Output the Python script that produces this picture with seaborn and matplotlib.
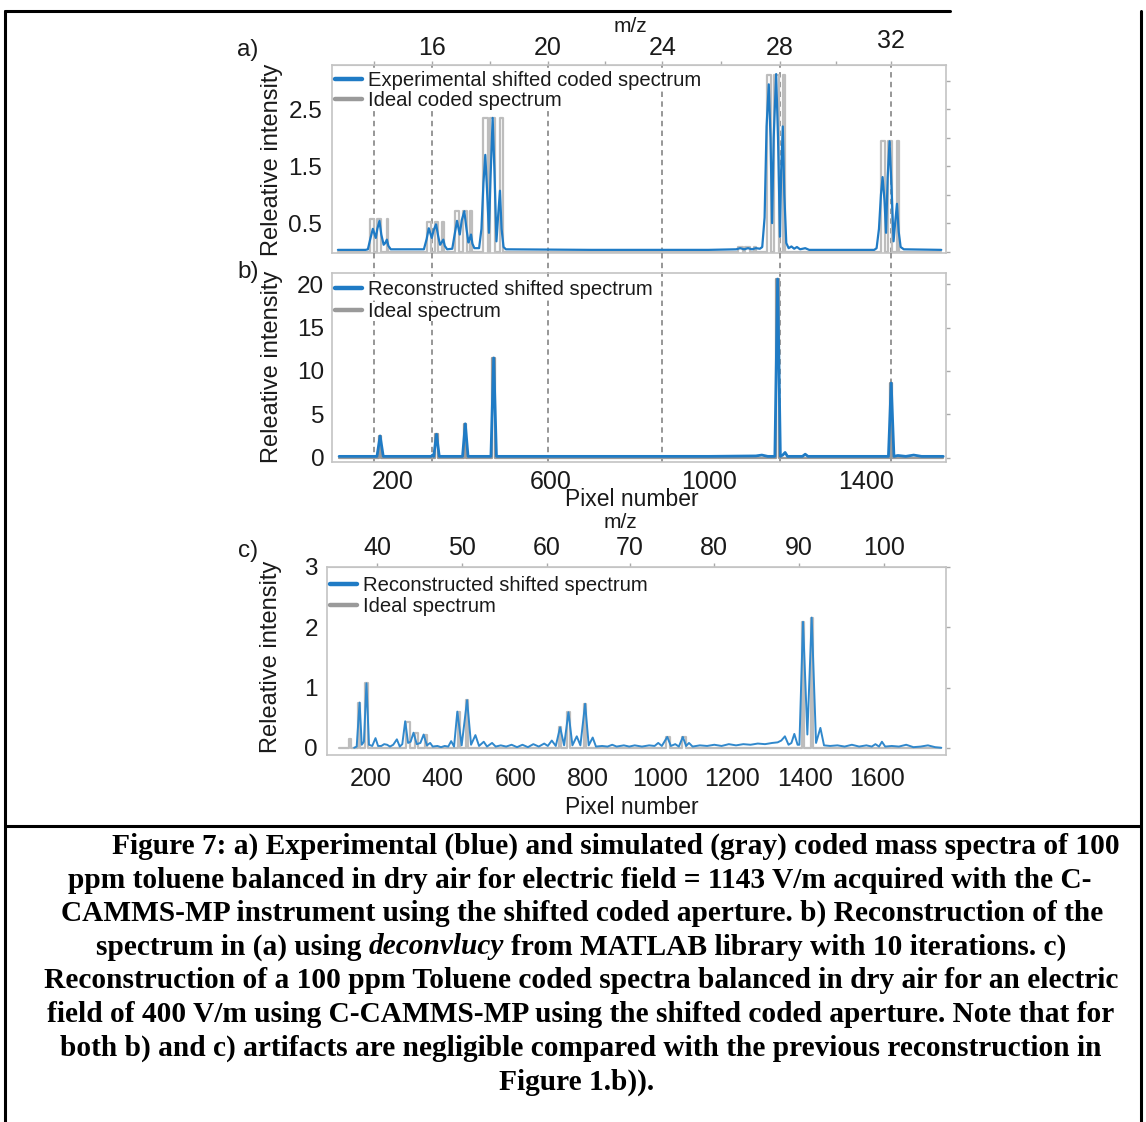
import numpy as np
import pandas as pd
import matplotlib
matplotlib.use("Agg")
import matplotlib.pyplot as plt
import seaborn as sns
from matplotlib.lines import Line2D
from matplotlib.transforms import blended_transform_factory

# ------------------------------------------------------------------ data
# a) experimental shifted coded spectrum: pixel number / relative intensity
a_exp_px = [60, 130, 136, 142, 148.6, 156, 160, 165.3, 170, 176, 180, 184.1, 188, 194,
            278, 285, 290.4, 298, 303, 308.9, 314, 319, 323, 327.3, 331, 337,
            350, 356, 362, 369, 374, 380.5, 386, 391, 394, 397.5, 401, 406,
            418, 424, 429, 433.7, 438, 443, 447, 452.4, 457, 462, 466, 470.9, 475, 480, 486,
            700, 1000, 1070, 1080, 1090, 1100, 1110, 1120, 1130,
            1136, 1142, 1147, 1152.6, 1157, 1161, 1165, 1171.3, 1176, 1181, 1184, 1188.1,
            1192, 1197, 1203, 1210, 1217, 1224, 1232, 1245, 1255,
            1420, 1426, 1432, 1437, 1441.2, 1446, 1450, 1454, 1458.9, 1464, 1469, 1473,
            1477.7, 1482, 1487, 1495, 1590]
a_exp_int = [0.03, 0.03, 0.04, 0.22, 0.40, 0.24, 0.40, 0.54, 0.30, 0.12, 0.15, 0.21, 0.10, 0.04,
             0.04, 0.22, 0.41, 0.24, 0.38, 0.48, 0.28, 0.12, 0.16, 0.21, 0.10, 0.04,
             0.05, 0.30, 0.54, 0.30, 0.55, 0.71, 0.40, 0.16, 0.22, 0.30, 0.14, 0.06,
             0.06, 0.40, 1.20, 1.70, 1.10, 0.33, 1.30, 2.35, 1.40, 0.18, 0.60, 1.07, 0.40, 0.08, 0.04,
             0.03, 0.03, 0.04, 0.06, 0.04, 0.06, 0.04, 0.06, 0.05,
             0.08, 0.60, 2.20, 2.94, 2.00, 0.50, 2.00, 3.12, 2.00, 0.26, 1.40, 2.20,
             1.00, 0.15, 0.06, 0.09, 0.05, 0.08, 0.04, 0.06, 0.03,
             0.03, 0.06, 0.40, 1.00, 1.31, 0.90, 0.33, 1.30, 1.94, 1.10, 0.18, 0.50,
             0.84, 0.35, 0.08, 0.04, 0.03]
# a) ideal coded spectrum: slit openings
a_slit_start = [142.5, 159.5, 184.8, 286.1, 306.3, 324.8, 357.7, 376.5, 394.9,
                428.6, 446.3, 471.6, 1075, 1092, 1116, 1148.6, 1165.3, 1188.1,
                1437.9, 1454.9, 1477.7]
a_slit_end = [152.7, 169.6, 188.1, 296.2, 314.7, 328.4, 367.8, 386.6, 399.2,
              439.7, 458.2, 477.7, 1087, 1104, 1121, 1158.7, 1178.9, 1193.2,
              1446.3, 1465.1, 1481.8]
a_slit_height = [0.57, 0.57, 0.57, 0.52, 0.52, 0.52, 0.71, 0.71, 0.71,
                 2.35, 2.35, 2.35, 0.08, 0.08, 0.08, 3.10, 3.10, 3.10,
                 1.95, 1.95, 1.95]
# m/z markers (dashed lines) for panels a and b, in pixel number
mz_marks = [14, 16, 20, 24, 28, 32]
mz_marks_px = [152, 299, 592, 883, 1181, 1463]
a_top_labels = [16, 20, 24, 28, 32]
a_top_minor = [14, 18, 22, 26, 30]

# b) reconstructed shifted spectrum
b_rec_px = [63, 159, 167, 175, 296, 300, 303, 310, 317, 376, 383, 390, 448, 455, 462,
            1000, 1120, 1135, 1150, 1168, 1175, 1182, 1188, 1194, 1200,
            1238, 1245, 1252, 1456, 1463, 1470, 1480, 1500, 1520, 1540, 1595]
b_rec_int = [0.15, 0.15, 2.5, 0.15, 0.15, 0.3, 0.15, 2.7, 0.15, 0.15, 3.9, 0.15, 0.15, 11.5, 0.15,
             0.15, 0.2, 0.3, 0.15, 0.15, 20.6, 0.15, 0.3, 0.6, 0.15,
             0.15, 0.4, 0.15, 0.15, 8.6, 0.15, 0.25, 0.15, 0.3, 0.15, 0.15]
# b) ideal spectrum sticks
b_ideal_pos = [167, 310, 383, 455, 1175, 1463]
b_ideal_int = [2.5, 2.7, 3.9, 11.5, 20.6, 8.6]

# c) reconstructed shifted spectrum (400 V/m)
c_rec_px = [155, 162, 170, 176, 182, 189, 196, 205, 214, 221, 230, 238, 246, 254, 263, 273,
            281, 288, 296, 304, 311, 319, 328, 338, 347, 356, 365, 372, 385, 395, 405, 415,
            423, 431, 440, 452, 467, 478, 490, 500, 513, 522, 536, 546, 560, 575, 590, 605,
            620, 635, 650, 665, 680, 690, 701, 712, 724, 735, 747, 758, 770, 780, 793, 803,
            814, 823, 840, 855, 868, 880, 900, 915, 930, 950, 970, 985, 995, 1005, 1020, 1030,
            1042, 1052, 1063, 1072, 1080, 1090, 1110, 1130, 1150, 1170, 1190, 1210, 1230, 1250,
            1270, 1290, 1310, 1325, 1335, 1345, 1355, 1363, 1371, 1380, 1385, 1395, 1407, 1419,
            1431, 1443, 1453, 1470, 1490, 1510, 1530, 1550, 1570, 1585, 1595, 1605, 1613, 1622,
            1640, 1660, 1680, 1700, 1720, 1740, 1760, 1777]
c_rec_int = [0.00, 0.02, 0.75, 0.05, 0.10, 1.07, 0.05, 0.03, 0.16, 0.03, 0.03, 0.06, 0.05, 0.02, 0.05, 0.14,
             0.02, 0.06, 0.44, 0.08, 0.10, 0.25, 0.06, 0.08, 0.22, 0.04, 0.08, 0.02, 0.03, 0.01, 0.03, 0.02,
             0.11, 0.02, 0.60, 0.04, 0.79, 0.05, 0.21, 0.03, 0.10, 0.02, 0.08, 0.02, 0.04, 0.02, 0.05, 0.01,
             0.05, 0.01, 0.06, 0.02, 0.07, 0.03, 0.12, 0.03, 0.34, 0.04, 0.59, 0.04, 0.19, 0.04, 0.73, 0.04,
             0.17, 0.02, 0.03, 0.02, 0.05, 0.02, 0.04, 0.02, 0.04, 0.02, 0.04, 0.03, 0.08, 0.03, 0.18, 0.03,
             0.06, 0.02, 0.18, 0.03, 0.08, 0.02, 0.04, 0.03, 0.05, 0.03, 0.06, 0.04, 0.06, 0.05,
             0.07, 0.06, 0.08, 0.09, 0.12, 0.19, 0.05, 0.08, 0.23, 0.05, 0.05, 2.09, 0.22, 2.16,
             0.08, 0.33, 0.04, 0.03, 0.04, 0.02, 0.05, 0.02, 0.04, 0.02, 0.06, 0.02, 0.10, 0.02,
             0.03, 0.02, 0.05, 0.01, 0.02, 0.04, 0.01, 0.00]
# c) ideal spectrum openings
c_ideal_start = [141, 166, 186, 297, 324, 350, 442, 464, 721, 744, 790, 1017, 1060, 1392, 1416]
c_ideal_end = [145, 172, 192, 308, 331, 356, 448, 470, 727, 750, 796, 1028, 1071, 1398, 1422]
c_ideal_int = [0.15, 0.75, 1.07, 0.43, 0.25, 0.22, 0.60, 0.79, 0.34, 0.59, 0.73, 0.18, 0.18, 2.09, 2.16]
c_top_labels = [40, 50, 60, 70, 80, 90, 100]
c_top_px = [219, 454, 688, 916, 1150, 1384, 1619]

legend_a = ["Experimental shifted coded spectrum", "Ideal coded spectrum"]
legend_bc = ["Reconstructed shifted spectrum", "Ideal spectrum"]

caption_lines = [
    [("Figure 7: a) Experimental (blue) and simulated (gray) coded mass spectra of 100", "normal")],
    [("ppm toluene balanced in dry air for electric field = 1143 V/m acquired with the C-", "normal")],
    [("CAMMS-MP instrument using the shifted coded aperture. b) Reconstruction of the", "normal")],
    [("spectrum in (a) using", "normal"), ("deconvlucy", "italic"),
     ("from MATLAB library with 10 iterations. c)", "normal")],
    [("Reconstruction of a 100 ppm Toluene coded spectra balanced in dry air for an electric", "normal")],
    [("field of 400 V/m using C-CAMMS-MP using the shifted coded aperture. Note that for", "normal")],
    [("both b) and c) artifacts are negligible compared with the previous reconstruction in", "normal")],
    [("Figure 1.b)).", "normal")],
]

# ------------------------------------------------------------------ style
sns.set_style("white")
plt.rcParams["font.family"] = ["Liberation Sans", "DejaVu Sans"]

W, H = 1146, 1122
fig = plt.figure(figsize=(W / 100, H / 100), dpi=100)

BLUE = "#1f7bc5"
BLUE_C = "#3088cc"
GRAY_LINE = "#bdbdbd"
GRAY_HANDLE = "#9a9a9a"
DASH = "#8f8f8f"
SPINE = "#c4c4c4"
TXT = "#1a1a1a"
YTICK_FS = 17.5
XTICK_FS = 18


def fx(px):
    return px / W


def fy(py):
    return 1 - py / H


def add_ax(left, top, right, bottom):
    return fig.add_axes([fx(left), fy(bottom), fx(right - left), (bottom - top) / H])


def step_trace(starts, ends, heights, xmin, xmax):
    xs, ys = [xmin], [0.0]
    for s, e, h in zip(starts, ends, heights):
        xs += [s, s, e, e]
        ys += [0.0, h, h, 0.0]
    xs.append(xmax)
    ys.append(0.0)
    return xs, ys


def sline(ax, x, y, color, lw, z):
    df = pd.DataFrame({"x": x, "y": y})
    sns.lineplot(data=df, x="x", y="y", ax=ax, color=color, linewidth=lw,
                 sort=False, estimator=None, legend=False, zorder=z)
    ax.set_xlabel("")
    ax.set_ylabel("")


def style_ax(ax):
    for s in ax.spines.values():
        s.set_color(SPINE)
        s.set_linewidth(1.2)
        s.set_visible(True)
    ax.tick_params(axis="both", direction="out", length=3, width=1, color="#aaaaaa",
                   labelcolor=TXT)
    ax.tick_params(axis="y", right=True, labelright=False, labelsize=YTICK_FS)
    ax.tick_params(axis="x", labelsize=XTICK_FS)


def add_legend(ax, labels, anchor, spacing):
    handles = [Line2D([0], [0], color=BLUE, lw=3.2), Line2D([0], [0], color=GRAY_HANDLE, lw=3.2)]
    leg = ax.legend(handles, labels, loc="upper left", bbox_to_anchor=anchor, frameon=False,
                    fontsize=14.6, handlelength=1.35, handletextpad=0.25, labelspacing=spacing,
                    borderpad=0, borderaxespad=0)
    for t in leg.get_texts():
        t.set_color(TXT)
        t.set_bbox(dict(facecolor="white", edgecolor="none", pad=0))
    leg.set_zorder(6)
    return leg


# ------------------------------------------------------------------ panel a
ax_a = add_ax(332, 65, 946, 253)
XLIM_AB = (45, 1602)
gx, gy = step_trace(a_slit_start, a_slit_end, a_slit_height, 60, 1590)
sline(ax_a, gx, gy, GRAY_LINE, 1.6, 2)
sline(ax_a, a_exp_px, a_exp_int, BLUE, 1.6, 3)
ax_a.set_xlim(*XLIM_AB)
ax_a.set_ylim(-0.025, 3.28)
style_ax(ax_a)
ax_a.set_yticks(np.arange(0, 3.01, 0.5))
ax_a.set_yticklabels(["", "0.5", "", "1.5", "", "2.5", ""])
ax_a.tick_params(axis="y", pad=4)
ax_a.set_xticks(np.arange(200, 1401, 200))
ax_a.tick_params(axis="x", labelbottom=False)
for p in mz_marks_px:
    ax_a.axvline(p, color=DASH, lw=1.3, dashes=(3, 2.4), zorder=1)
top_a = ax_a.secondary_xaxis("top")
top_pos = [mz_marks_px[mz_marks.index(m)] for m in a_top_labels]
top_a.set_xticks(top_pos, [str(m) for m in a_top_labels])
minor_pos = list(np.interp(a_top_minor, mz_marks, mz_marks_px))
top_a.set_xticks(minor_pos, minor=True)
top_a.tick_params(which="both", direction="out", length=3, width=1, color="#aaaaaa",
                  labelsize=XTICK_FS, labelcolor=TXT, pad=0.5)
top_a.spines["top"].set_color(SPINE)
top_a.xaxis.get_major_ticks()[-1].set_pad(5.5)
add_legend(ax_a, legend_a, (0.005, 0.97), 0.06)

# ------------------------------------------------------------------ panel b
ax_b = add_ax(332, 273, 946, 462)
bx, by = step_trace([p - 3 for p in b_ideal_pos], [p + 3 for p in b_ideal_pos], b_ideal_int, 63, 1595)
sline(ax_b, bx, by, GRAY_HANDLE, 1.6, 2)
sline(ax_b, b_rec_px, b_rec_int, BLUE, 2.0, 3)
ax_b.set_xlim(*XLIM_AB)
ax_b.set_ylim(-0.5, 21.3)
style_ax(ax_b)
ax_b.set_yticks([0, 5, 10, 15, 20])
ax_b.tick_params(axis="y", pad=2.5)
ax_b.set_xticks(np.arange(200, 1401, 200))
ax_b.set_xticklabels(["200", "", "600", "", "1000", "", "1400"])
ax_b.tick_params(axis="x", pad=2.5)
tr_b = blended_transform_factory(ax_b.transData, fig.transFigure)
for p in mz_marks_px:
    ax_b.axvline(p, color=DASH, lw=1.3, dashes=(3, 2.4), zorder=1)
    # bridge between panels a and b
    fig.add_artist(Line2D([p, p], [fy(253), fy(273)], transform=tr_b, color=DASH,
                          lw=1.3, dashes=(3, 2.4)))
add_legend(ax_b, legend_bc, (0.005, 0.965), 0.18)

# ------------------------------------------------------------------ panel c
ax_c = add_ax(327, 567, 946, 755)
cx, cy = step_trace(c_ideal_start, c_ideal_end, c_ideal_int, 112, 1777)
sline(ax_c, cx, cy, GRAY_LINE, 1.6, 2)
sline(ax_c, c_rec_px, c_rec_int, BLUE_C, 1.4, 3)
ax_c.set_xlim(80, 1790)
ax_c.set_ylim(-0.12, 3.0)
style_ax(ax_c)
ax_c.set_yticks([0, 1, 2, 3])
ax_c.tick_params(axis="y", pad=3.5)
ax_c.set_xticks(np.arange(200, 1601, 200))
ax_c.tick_params(axis="x", pad=5.5)
top_c = ax_c.secondary_xaxis("top")
top_c.set_xticks(c_top_px, [str(m) for m in c_top_labels])
top_c.tick_params(direction="out", length=3, width=1, color="#aaaaaa",
                  labelsize=XTICK_FS, labelcolor=TXT, pad=2)
top_c.spines["top"].set_color(SPINE)
add_legend(ax_c, legend_bc, (0.005, 0.95), 0.1)

# ------------------------------------------------------------------ free text
def ftext(x, y, s, size, **kw):
    return fig.text(fx(x), fy(y), s, fontsize=size, color=TXT, ha="center", va="center", **kw)


ftext(248, 50, "a)", 17.5)
ftext(248, 272, "b)", 17.5)
ftext(248, 551, "c)", 17.5)
ftext(630, 27, "m/z", 15)
ftext(620, 522, "m/z", 15)
ftext(632, 500, "Pixel number", 16.5)
ftext(632, 807, "Pixel number", 16.5)
ftext(272, 160, "Releative intensity", 17, rotation=90)
ftext(272, 367, "Releative intensity", 17, rotation=90)
ftext(271, 657, "Releative intensity", 17, rotation=90)

# ------------------------------------------------------------------ borders
def hline(x0, x1, y, lw=2.2):
    fig.add_artist(Line2D([fx(x0), fx(x1)], [fy(y), fy(y)], color="black", lw=lw,
                          transform=fig.transFigure))


def vline(x, y0, y1, lw=2.2):
    fig.add_artist(Line2D([fx(x), fx(x)], [fy(y0), fy(y1)], color="black", lw=lw,
                          transform=fig.transFigure))


hline(5, 950, 11)
vline(5, 11, 1122)
vline(1141, 11, 1122)
hline(5, 1141, 826)

# ------------------------------------------------------------------ caption
fig.canvas.draw()
renderer = fig.canvas.get_renderer()
CAP_FONT = "Liberation Serif"


def measure(s, size, style):
    t = fig.text(0, 0, s, fontsize=size, family=CAP_FONT, weight="bold", style=style)
    w = t.get_window_extent(renderer).width
    t.remove()
    return w


ref = measure(caption_lines[4][0][0], 20, "normal")
cap_size = 20 * 1073 / ref
space_px = 0.25 * cap_size * 100 / 72
cap_x = [616, 580, 582, 581, 581, 581, 581, 577]
cap_y = [846, 880, 913, 947, 981, 1015, 1048, 1082]
for segs, xc, yc in zip(caption_lines, cap_x, cap_y):
    widths = [measure(s, cap_size, st) for s, st in segs]
    total = sum(widths) + space_px * (len(segs) - 1)
    x = xc - total / 2
    for (s, st), w in zip(segs, widths):
        fig.text(fx(x), fy(yc), s, fontsize=cap_size, family=CAP_FONT, weight="bold",
                 style=st, ha="left", va="center", color="black")
        x += w + space_px

fig.savefig("out.png", dpi=100)
